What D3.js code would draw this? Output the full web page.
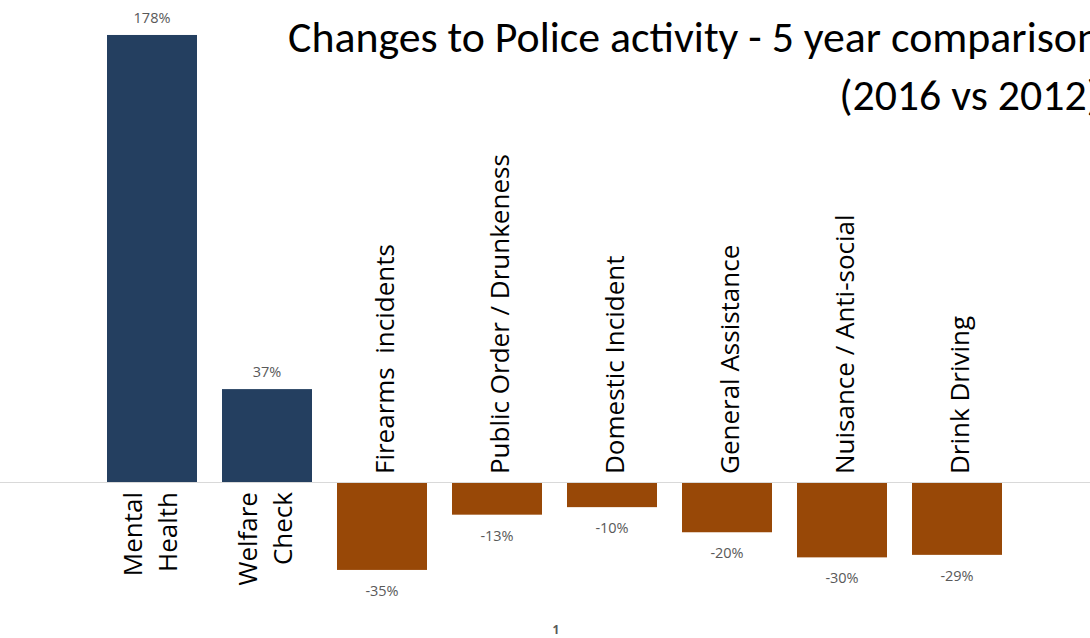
<!DOCTYPE html>
<html>
<head>
<meta charset="utf-8">
<script src="https://cdn.jsdelivr.net/npm/d3@7"></script>
<style>
  html, body { margin: 0; padding: 0; background: #fff; overflow: hidden; }
  svg { display: block; }
  text { white-space: pre; }
</style>
</head>
<body>
<svg id="chart" width="1090" height="638"></svg>
<script>
// Percentage change in police activity, 2016 vs 2012
const categories = [
  "Mental Health", "Welfare Check", "Firearms  incidents", "Public Order / Drunkeness",
  "Domestic Incident", "General Assistance", "Nuisance / Anti-social", "Drink Driving"
];
// Two-line labels for the categories that sit under positive bars
const categoryLines = [
  ["Mental", "Health"], ["Welfare", "Check"], null, null, null, null, null, null
];
const changePct = [178, 37, -35, -13, -10, -20, -30, -29];
const titleLines = ["Changes to Police activity - 5 year comparison", "(2016 vs 2012)"];
const pageNumber = "1";

const W = 1090, H = 638;
const svg = d3.select("#chart");

const x = d3.scaleBand()
  .domain(categories)
  .range([94.5, 1014.5])
  .paddingInner(25 / 115)
  .paddingOuter(12.5 / 115);

const y = d3.scaleLinear()
  .domain([-50, 150])
  .range([607.6, 105.3]);

const data = categories.map((c, i) => ({ cat: c, v: changePct[i], lines: categoryLines[i] }));
const y0 = y(0);
const pct = v => `${v}%`;

// Bars
svg.append("g").selectAll("rect")
  .data(data)
  .join("rect")
  .attr("x", d => x(d.cat))
  .attr("width", x.bandwidth())
  .attr("y", d => Math.min(y(d.v), y0))
  .attr("height", d => Math.abs(y(d.v) - y0))
  .attr("fill", d => d.v >= 0 ? "#243f60" : "#984807");

// Zero line across the whole width
svg.append("line")
  .attr("x1", 0).attr("x2", W)
  .attr("y1", Math.round(y0) + 0.5).attr("y2", Math.round(y0) + 0.5)
  .attr("stroke", "#d9d9d9").attr("stroke-width", 1);

// Value labels
svg.append("g").selectAll("text")
  .data(data)
  .join("text")
  .attr("x", d => x(d.cat) + x.bandwidth() / 2)
  .attr("y", d => d.v >= 0 ? y(d.v) - 17 : y(d.v) + 21)
  .attr("dy", "0.35em")
  .attr("text-anchor", "middle")
  .attr("font-family", "'Open Sans', sans-serif")
  .attr("font-size", 14.5)
  .attr("fill", "#595959")
  .text(d => pct(d.v));

// Category labels, rotated
const catG = svg.append("g")
  .attr("font-family", "'Open Sans', sans-serif")
  .attr("font-size", 26)
  .attr("fill", "#000");

data.forEach(d => {
  const cx = x(d.cat) + x.bandwidth() / 2;
  if (d.v < 0) {
    catG.append("text")
      .attr("transform", `translate(${cx + 3},${y0 - 8}) rotate(-90)`)
      .attr("dy", "0.35em")
      .attr("text-anchor", "start")
      .text(d.cat);
  } else {
    const lines = d.lines || [d.cat];
    const gap = 35;
    lines.forEach((ln, j) => {
      const off = (j - (lines.length - 1) / 2) * gap;
      catG.append("text")
        .attr("transform", `translate(${cx + off - 2},${y0 + 10}) rotate(-90)`)
        .attr("dy", "0.35em")
        .attr("text-anchor", "end")
        .text(ln);
    });
  }
});

// Title, right-aligned, sized so the first line spans its measured width
const titleG = svg.append("g")
  .attr("font-family", "Carlito, Lato, 'Open Sans', sans-serif")
  .attr("fill", "#000");
const probe = titleG.append("text").attr("font-size", 100).text(titleLines[0]);
const probeLen = probe.node().getComputedTextLength();
probe.remove();
const titleSize = 100 * 812 / probeLen;
const titleRight = 1100;
titleLines.forEach((t, i) => {
  titleG.append("text")
    .attr("x", titleRight)
    .attr("y", 52 + i * 58)
    .attr("text-anchor", "end")
    .attr("font-size", titleSize)
    .text(t);
});

// Page number
svg.append("text")
  .attr("x", 556)
  .attr("y", 634)
  .attr("text-anchor", "middle")
  .attr("font-family", "'Open Sans', sans-serif")
  .attr("font-weight", "bold")
  .attr("font-size", 12)
  .attr("fill", "#595959")
  .text(pageNumber);
</script>
</body>
</html>
